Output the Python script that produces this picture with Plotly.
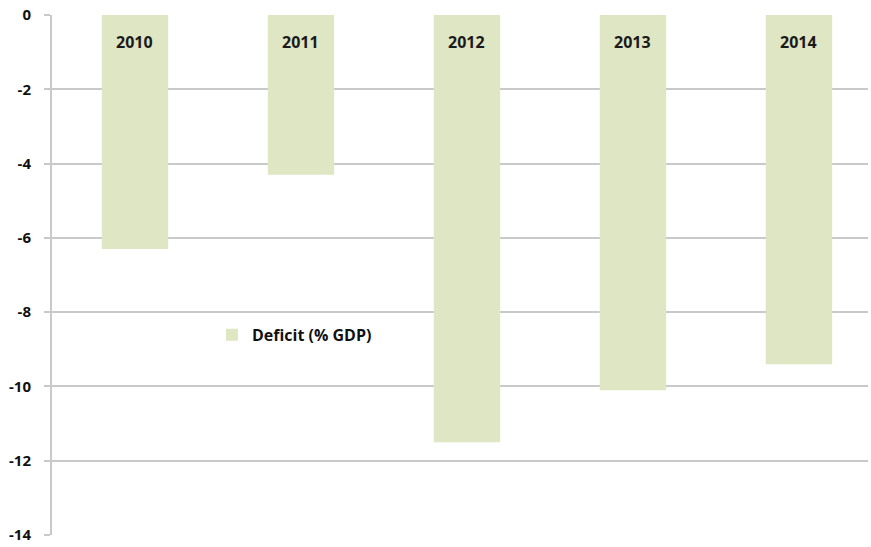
import plotly.graph_objects as go

years = ["2010", "2011", "2012", "2013", "2014"]
deficit = [-6.3, -4.3, -11.5, -10.1, -9.4]
series_name = "Deficit (% GDP)"
y_ticks = [0, -2, -4, -6, -8, -10, -12, -14]

bar_color = "#dfe6c4"
grid_color = "#c9c9c9"

fig = go.Figure()
fig.add_trace(go.Bar(
    x=years, y=deficit, name=series_name,
    marker=dict(color=bar_color, line=dict(width=0)),
    width=0.4, showlegend=True,
))

for i, yr in enumerate(years):
    fig.add_annotation(x=i, y=0, xref="x", yref="y", text="<b>%s</b>" % yr,
                       showarrow=False, yanchor="middle", yshift=-27,
                       font=dict(family="Open Sans", size=16, color="#1a1a1a"))

fig.update_layout(
    width=871, height=547,
    margin=dict(l=52, r=3, t=15, b=10),
    plot_bgcolor="white", paper_bgcolor="white",
    bargap=0.6,
    xaxis=dict(type="category", range=[-0.5, 4.416], showticklabels=False,
               showgrid=False, zeroline=False, showline=False, ticks=""),
    yaxis=dict(range=[-14, 0], tickvals=y_ticks, ticktext=[str(v) for v in y_ticks],
               showgrid=True, gridcolor=grid_color, gridwidth=2,
               zeroline=False, showline=True, linecolor=grid_color, linewidth=2,
               ticks="outside", ticklen=6, tickcolor=grid_color, tickwidth=2,
               ticklabelstandoff=10,
               tickfont=dict(family="Open Sans", size=15, color="#111111", weight="bold")),
    legend=dict(x=0.196, y=0.385, xanchor="left", yanchor="middle",
                bgcolor="rgba(0,0,0,0)",
                font=dict(family="Open Sans", size=16, color="#111111", weight="bold"),
                itemsizing="constant"),
)

fig.write_html("out.html")
